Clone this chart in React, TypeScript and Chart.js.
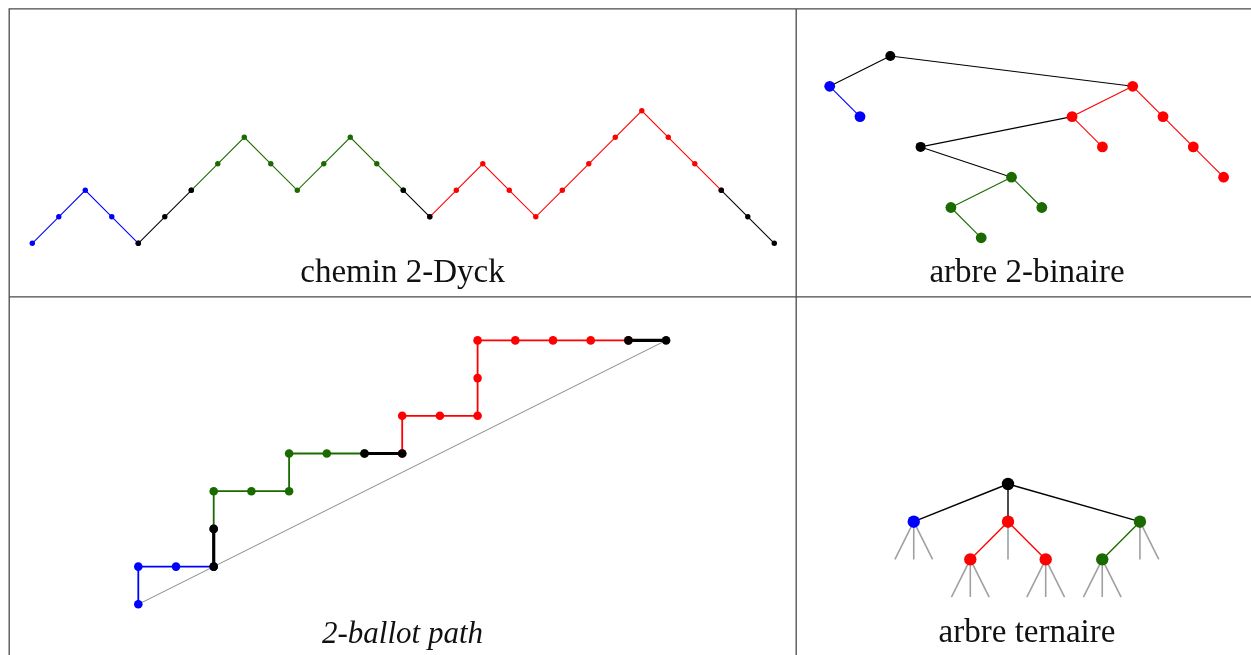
import React, { useEffect, useRef } from 'react';
import { Chart, registerables } from 'chart.js';

Chart.register(...registerables);

const W = 1251;
const H = 655;

// ---------- chemin 2-Dyck ----------
const dyckHeights = [0, 1, 2, 1, 0, 1, 2, 3, 4, 3, 2, 3, 4, 3, 2, 1, 2, 3, 2, 1, 2, 3, 4, 5, 4, 3, 2, 1, 0];
const dyckRunFactor = ['blue', 'black', 'green', 'black', 'red', 'black'];
const dyckRunStart = [0, 4, 6, 14, 15, 26];
const dyckRunEnd = [4, 6, 14, 15, 26, 28];

// ---------- 2-ballot path ----------
const ballotX = [0, 0, 1, 2, 2, 2, 3, 4, 4, 5, 6, 7, 7, 8, 9, 9, 9, 10, 11, 12, 13, 14];
const ballotY = [0, 1, 1, 1, 2, 3, 3, 3, 4, 4, 4, 4, 5, 5, 5, 6, 7, 7, 7, 7, 7, 7];
const ballotRunFactor = ['blue', 'black', 'green', 'black', 'red', 'black'];
const ballotRunStart = [0, 3, 4, 10, 11, 20];
const ballotRunEnd = [3, 4, 10, 11, 20, 21];

// ---------- arbre 2-binaire ----------
const binX = [2, 0, 1, 10, 8, 9, 11, 12, 13, 3, 6, 4, 7, 5];
const binDepth = [0, 1, 2, 1, 2, 3, 2, 3, 4, 3, 4, 5, 5, 6];
const binFactor = ['black', 'blue', 'blue', 'red', 'red', 'red', 'red', 'red', 'red', 'black', 'green', 'green', 'green', 'green'];
const binParent = [-1, 0, 1, 0, 3, 4, 3, 6, 7, 4, 9, 10, 10, 11];
const binEdgeFactor = ['', 'black', 'blue', 'black', 'red', 'red', 'red', 'red', 'red', 'black', 'black', 'green', 'green', 'green'];

// ---------- arbre ternaire ----------
const ternX = [0, -5, 0, 7, -2, 2, 5];
const ternDepth = [0, 1, 1, 1, 2, 2, 2];
const ternFactor = ['black', 'blue', 'red', 'green', 'red', 'red', 'green'];
const ternParent = [-1, 0, 0, 0, 2, 2, 3];
const ternEdgeFactor = ['', 'black', 'black', 'black', 'red', 'red', 'green'];
const ternLeafParent = [1, 1, 1, 2, 3, 3, 4, 4, 4, 5, 5, 5, 6, 6, 6];
const ternLeafX = [-6, -5, -4, 0, 7, 8, -3, -2, -1, 1, 2, 3, 4, 5, 6];

// ---------- captions ----------
const captions = ['chemin 2-Dyck', 'arbre 2-binaire', '2-ballot path', 'arbre ternaire'];
const captionItalic = [false, false, true, false];

// ---------- styles / layout ----------
const COLORS: Record<string, string> = {
  black: '#000000',
  blue: '#0000ff',
  red: '#ff0000',
  green: '#1b6a00',
};
const GRAY_DIAG = '#8a8a8a';
const GRAY_LEAF = '#a0a0a0';

const DYCK = { x0: 32.3, y0: 243.3, unit: 26.5 };
const BIN = { x0: 829.7, y0: 56, unit: 30.3 };
const BALLOT = { x0: 138.3, y0: 604.3, unit: 37.7 };
const TERN = { x0: 1008, y0: 484, ux: 18.85, uy: 37.7 };

const captionPos = [
  { cx: 402.5, base: 283 },
  { cx: 1027, base: 283 },
  { cx: 402.5, base: 643 },
  { cx: 1027, base: 643 },
];

const xAxis = (x0: number, u: number) => ({
  type: 'linear', axis: 'x', position: 'bottom', display: false, bounds: 'data',
  min: -x0 / u, max: (W - x0) / u,
});
const yUp = (y0: number, u: number) => ({
  type: 'linear', axis: 'y', position: 'left', display: false, bounds: 'data',
  max: y0 / u, min: y0 / u - H / u,
});
const yDown = (y0: number, u: number) => ({
  type: 'linear', axis: 'y', position: 'left', display: false, bounds: 'data', reverse: true,
  min: -y0 / u, max: (H - y0) / u,
});

function buildDatasets() {
  const ds: any[] = [];
  // Dyck path
  dyckRunFactor.forEach((f, r) => {
    const data = [];
    for (let i = dyckRunStart[r]; i <= dyckRunEnd[r]; i++) data.push({ x: i, y: dyckHeights[i] });
    ds.push({
      data, xAxisID: 'xd', yAxisID: 'yd', showLine: true,
      borderColor: COLORS[f], borderWidth: 1.1, backgroundColor: COLORS[f],
      pointRadius: 2.7, pointBorderWidth: 0, pointBackgroundColor: COLORS[f],
      order: f === 'black' ? 0 : 1, clip: false,
    });
  });
  // Ballot diagonal
  const last = ballotX.length - 1;
  ds.push({
    data: [{ x: ballotX[0], y: ballotY[0] }, { x: ballotX[last], y: ballotY[last] }],
    xAxisID: 'xp', yAxisID: 'yp', showLine: true, borderColor: GRAY_DIAG, borderWidth: 1,
    pointRadius: 0, order: 3, clip: false,
  });
  ballotRunFactor.forEach((f, r) => {
    const data = [];
    for (let i = ballotRunStart[r]; i <= ballotRunEnd[r]; i++) data.push({ x: ballotX[i], y: ballotY[i] });
    ds.push({
      data, xAxisID: 'xp', yAxisID: 'yp', showLine: true,
      borderColor: COLORS[f], borderWidth: f === 'black' ? 3.2 : 1.8, backgroundColor: COLORS[f],
      pointRadius: 4.3, pointBorderWidth: 0, pointBackgroundColor: COLORS[f],
      order: f === 'black' ? 0 : 1, clip: false,
    });
  });
  // Binary tree edges
  binParent.forEach((p, i) => {
    if (p < 0) return;
    ds.push({
      data: [{ x: binX[p], y: binDepth[p] }, { x: binX[i], y: binDepth[i] }],
      xAxisID: 'xb', yAxisID: 'yb', showLine: true,
      borderColor: COLORS[binEdgeFactor[i]], borderWidth: 1.1, pointRadius: 0, order: 2, clip: false,
    });
  });
  ds.push({
    data: binX.map((x, i) => ({ x, y: binDepth[i] })),
    xAxisID: 'xb', yAxisID: 'yb', showLine: false,
    pointRadius: binFactor.map((f) => (f === 'black' ? 5 : 5.4)), pointBorderWidth: 0,
    pointBackgroundColor: binFactor.map((f) => COLORS[f]), backgroundColor: binFactor.map((f) => COLORS[f]),
    order: 0, clip: false,
  });
  // Ternary tree leaves (stubs)
  ternLeafParent.forEach((p, i) => {
    ds.push({
      data: [{ x: ternX[p], y: ternDepth[p] }, { x: ternLeafX[i], y: ternDepth[p] + 1 }],
      xAxisID: 'xt', yAxisID: 'yt', showLine: true,
      borderColor: GRAY_LEAF, borderWidth: 1.6, pointRadius: 0, order: 3, clip: false,
    });
  });
  ternParent.forEach((p, i) => {
    if (p < 0) return;
    ds.push({
      data: [{ x: ternX[p], y: ternDepth[p] }, { x: ternX[i], y: ternDepth[i] }],
      xAxisID: 'xt', yAxisID: 'yt', showLine: true,
      borderColor: COLORS[ternEdgeFactor[i]], borderWidth: 1.4, pointRadius: 0, order: 2, clip: false,
    });
  });
  ds.push({
    data: ternX.map((x, i) => ({ x, y: ternDepth[i] })),
    xAxisID: 'xt', yAxisID: 'yt', showLine: false,
    pointRadius: 6.2, pointBorderWidth: 0,
    pointBackgroundColor: ternFactor.map((f) => COLORS[f]), backgroundColor: ternFactor.map((f) => COLORS[f]),
    order: 0, clip: false,
  });
  return ds;
}

const tableLines = {
  id: 'tableLines',
  beforeDatasetsDraw(chart: any) {
    const ctx = chart.ctx;
    ctx.save();
    ctx.strokeStyle = '#4a4a4a';
    ctx.lineWidth = 1.3;
    ctx.beginPath();
    ctx.moveTo(9, 8.8); ctx.lineTo(W, 8.8);
    ctx.moveTo(9, 296.8); ctx.lineTo(W, 296.8);
    ctx.moveTo(9.2, 8.2); ctx.lineTo(9.2, H);
    ctx.moveTo(796.2, 8.2); ctx.lineTo(796.2, H);
    ctx.stroke();
    ctx.restore();
  },
};

export default function App() {
  const ref = useRef<HTMLCanvasElement>(null);
  useEffect(() => {
    if (!ref.current) return;
    const chart = new Chart(ref.current, {
      type: 'scatter',
      data: { datasets: buildDatasets() },
      options: {
        animation: false,
        responsive: false,
        maintainAspectRatio: false,
        layout: { padding: 0, autoPadding: false },
        plugins: { legend: { display: false }, tooltip: { enabled: false }, title: { display: false } },
        events: [],
        scales: {
          xd: xAxis(DYCK.x0, DYCK.unit),
          yd: yUp(DYCK.y0, DYCK.unit),
          xp: xAxis(BALLOT.x0, BALLOT.unit),
          yp: yUp(BALLOT.y0, BALLOT.unit),
          xb: xAxis(BIN.x0, BIN.unit),
          yb: yDown(BIN.y0, BIN.unit),
          xt: xAxis(TERN.x0, TERN.ux),
          yt: yDown(TERN.y0, TERN.uy),
        } as any,
      },
      plugins: [tableLines],
    } as any);
    return () => chart.destroy();
  }, []);

  return (
    <div style={{ position: 'fixed', left: 0, top: 0, width: W, height: H, background: '#fff', overflow: 'hidden' }}>
      <canvas ref={ref} width={W} height={H} style={{ position: 'absolute', left: 0, top: 0, width: W, height: H }} />
      {captions.map((c, i) => {
        const fs = captionItalic[i] ? 31 : 33;
        return (
          <div
            key={c}
            style={{
              position: 'absolute',
              left: captionPos[i].cx - 300,
              width: 600,
              top: captionPos[i].base - 0.8375 * fs,
              textAlign: 'center',
              fontFamily: '"Liberation Serif", serif',
              fontSize: fs,
              lineHeight: `${fs}px`,
              fontStyle: captionItalic[i] ? 'italic' : 'normal',
              color: '#111',
              whiteSpace: 'nowrap',
            }}
          >
            {c}
          </div>
        );
      })}
    </div>
  );
}
